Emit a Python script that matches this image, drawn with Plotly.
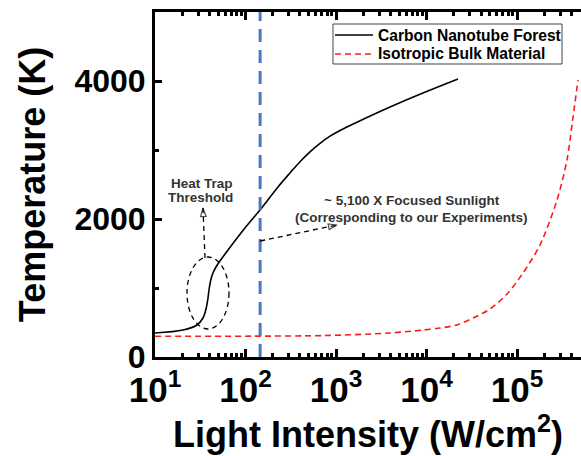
import plotly.graph_objects as go

# ---------------- data ----------------
cnt_intensity = [10, 20.4, 29.1, 33.9, 36.6, 38.5, 39.5, 41.6, 43.7, 47.2, 52.2, 64.1,
                 98.6, 144.5, 228.6, 310, 400, 516, 666, 859, 1107, 1706, 3954, 9141, 22300]
cnt_temperature = [348, 391, 464, 565, 696, 855, 971, 1130, 1217, 1304, 1391, 1551,
                   1870, 2130, 2464, 2667, 2830, 2974, 3097, 3200, 3283, 3403, 3623, 3826, 4029]

bulk_intensity = [10, 112, 718, 3954, 9141, 14100, 21700, 32700, 50400, 77600,
                  116400, 179500, 276700, 356500, 415900, 472100]
bulk_temperature = [300, 302, 310, 348, 391, 420, 464, 565, 696, 913,
                    1217, 1623, 2275, 2855, 3478, 4014]

experiment_intensity = 145          # ~5,100 X focused sunlight
y_limits = [0, 5000]

x_tick_values = [10, 100, 1000, 10000, 100000]
x_tick_labels = ["10<sup>1</sup>", "10<sup>2</sup>", "10<sup>3</sup>", "10<sup>4</sup>", "10<sup>5</sup>"]
y_tick_values = [0, 2000, 4000]
y_tick_labels = ["0", "2000", "4000"]
y_minor_values = [1000, 3000]

series_names = ["Carbon Nanotube Forest", "Isotropic Bulk Material"]
series_colors = ["black", "#ff1a1a"]
series_dashes = ["solid", "6px,4px"]

# annotation arrows (data coordinates)
heat_arrow_x = [35.7, 33.9]
heat_arrow_y = [1435, 2159]
sun_arrow_x = [145, 1026]
sun_arrow_y = [1681, 1913]

FONT = "Liberation Sans, Arial, sans-serif"

x_minor_values = [m * 10 ** k for k in range(1, 6) for m in range(2, 10)]

fig = go.Figure()

fig.add_trace(go.Scatter(
    x=cnt_intensity, y=cnt_temperature, mode="lines", name=series_names[0], showlegend=False,
    line=dict(color=series_colors[0], width=1.6, shape="spline", smoothing=1.0)))
fig.add_trace(go.Scatter(
    x=bulk_intensity, y=bulk_temperature, mode="lines", name=series_names[1], showlegend=False,
    line=dict(color=series_colors[1], width=1.6, dash=series_dashes[1], shape="spline", smoothing=0.8)))

# vertical blue dashed line at the experimental intensity
fig.add_trace(go.Scatter(
    x=[experiment_intensity, experiment_intensity], y=y_limits, mode="lines", showlegend=False,
    line=dict(color="#4a78c2", width=3, dash="13px,8px"), hoverinfo="skip"))

for ax_x, ax_y in [(heat_arrow_x, heat_arrow_y), (sun_arrow_x, sun_arrow_y)]:
    fig.add_trace(go.Scatter(
        x=ax_x, y=ax_y, mode="lines+markers", showlegend=False, hoverinfo="skip",
        line=dict(color="black", width=1.3, dash="5px,4px"),
        marker=dict(symbol="arrow-open", size=[0, 9], angleref="previous",
                    color="black", line=dict(color="black", width=1.2))))

# dashed ellipse around the threshold region
fig.add_shape(type="circle", xref="paper", yref="paper",
              x0=0.0751, x1=0.1737, y0=0.0812, y1=0.2899,
              line=dict(color="black", width=1.3, dash="5px,4px"))

ann_font = dict(family=FONT, size=13.5, color="#333333", weight="bold")
for txt, x, y in [("Heat Trap", 0.110, 0.504), ("Threshold", 0.107, 0.461),
                  ("~ 5,100 X Focused Sunlight", 0.603, 0.455),
                  ("(Corresponding to our Experiments)", 0.601, 0.403)]:
    fig.add_annotation(text=txt, x=x, y=y, xref="paper", yref="paper", showarrow=False,
                       font=ann_font, xanchor="center", yanchor="middle")

# legend box drawn in the plot corner
fig.add_shape(type="rect", xref="paper", yref="paper", x0=0.4178, x1=0.9554, y0=0.8493, y1=0.9652,
              line=dict(color="#444444", width=1), fillcolor="white", layer="above")
for i, row_y in enumerate([0.9333, 0.8783]):
    fig.add_shape(type="line", xref="paper", yref="paper", x0=0.4225, x1=0.5117, y0=row_y, y1=row_y,
                  line=dict(color=series_colors[i], width=1.6, dash=series_dashes[i]), layer="above")
    fig.add_annotation(text=series_names[i], x=0.5185, y=row_y, xref="paper", yref="paper",
                       showarrow=False, xanchor="left", yanchor="middle",
                       font=dict(family=FONT, size=15.6, color="black", weight="bold"))

fig.update_layout(
    width=581, height=456,
    margin=dict(l=155, r=0, t=12, b=99),
    paper_bgcolor="white", plot_bgcolor="white",
    font=dict(family=FONT, color="black"),
    showlegend=False,
    xaxis=dict(type="log", range=[1, 5.707], showgrid=False, zeroline=False, automargin=False,
               showline=True, linewidth=3, linecolor="black", mirror="ticks",
               ticks="inside", ticklen=8, tickwidth=2.5, tickcolor="black",
               tickmode="array", tickvals=x_tick_values, ticktext=x_tick_labels,
               tickfont=dict(family=FONT, size=35, color="black", weight="bold"),
               minor=dict(tickmode="array", tickvals=x_minor_values, ticks="inside",
                          ticklen=4, tickwidth=2.5, tickcolor="black", showgrid=False),
               title=dict(text="Light Intensity (W/cm<sup>2</sup>)", standoff=10,
                          font=dict(family=FONT, size=36, color="black", weight="bold"))),
    yaxis=dict(range=y_limits, showgrid=False, zeroline=False, automargin=False,
               showline=True, linewidth=3, linecolor="black", mirror=False,
               ticks="inside", ticklen=7, tickwidth=2.5, tickcolor="black",
               tickmode="array", tickvals=y_tick_values, ticktext=y_tick_labels,
               tickfont=dict(family=FONT, size=32, color="black", weight="bold"),
               minor=dict(tickmode="array", tickvals=y_minor_values, ticks="inside",
                          ticklen=4, tickwidth=2.5, tickcolor="black", showgrid=False),
               title=dict(text="Temperature (K)", standoff=18,
                          font=dict(family=FONT, size=36, color="black", weight="bold"))),
)

fig.write_html("out.html", config={"displayModeBar": False},
               post_script="document.body.style.margin='0';document.body.style.overflow='hidden';")
